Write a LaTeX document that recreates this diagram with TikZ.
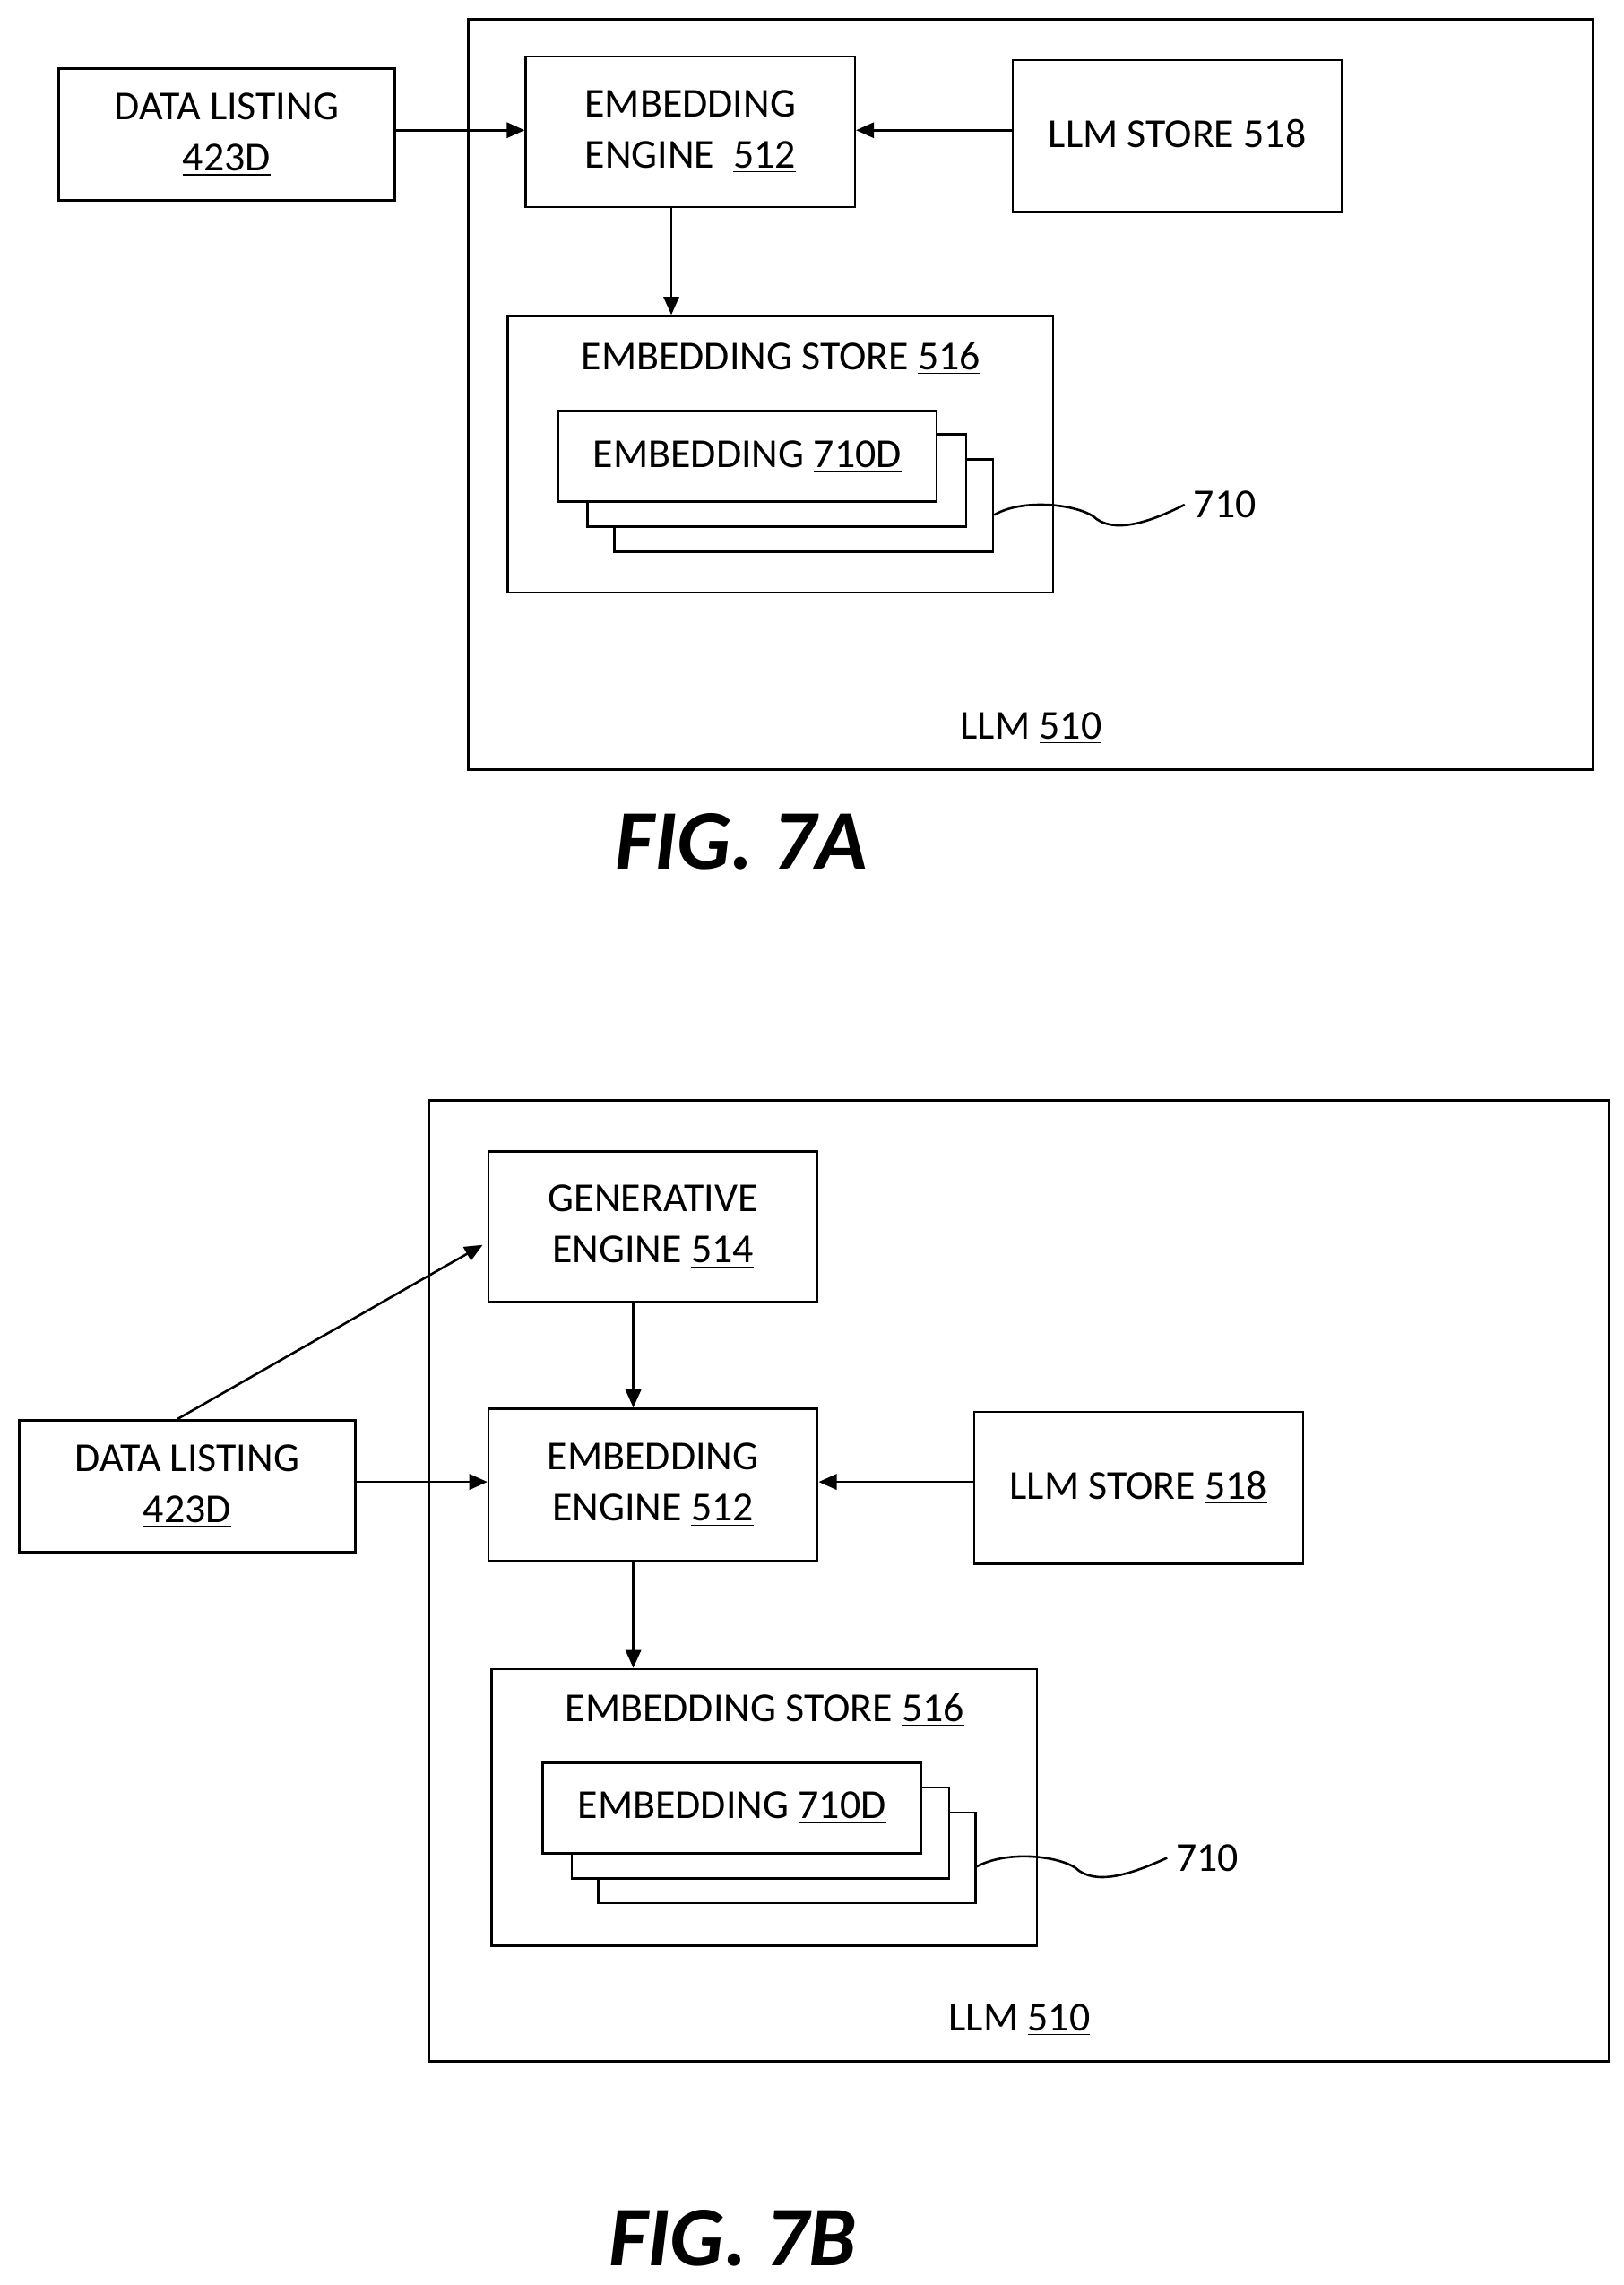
\documentclass[tikz,border=0pt]{standalone}
\usepackage{fontspec}
\setmainfont{Carlito}
\usetikzlibrary{arrows.meta}

\tikzset{
	box/.style={draw, line width=0.9pt, fill=white, align=center, font=\fontsize{16}{20}\selectfont},
	lbl/.style={font=\fontsize{16}{20}\selectfont},
	flow/.style={-{Triangle[length=7pt,width=6pt]}, line width=0.9pt},
	fig/.style={font=\fontsize{33}{36}\selectfont\bfseries\itshape}
}

\begin{document}
\begin{tikzpicture}[x=0.02cm, y=-0.02cm]
	% Page frame
	\useasboundingbox (0,0) rectangle (1110,1562);

	% ---- FIG. 7A ----
	\node[box, minimum width=15.38cm, minimum height=10.26cm] (llmA) at (704.5,269.5) {};
	\node[lbl] (llmAl) at (705,498) {LLM \underline{510}};
	\node[box, minimum width=4.6cm, minimum height=1.8cm] (dlA) at (155,92) {DATA LISTING\\\underline{423D}};
	\node[box, minimum width=4.5cm, minimum height=2.06cm] (eeA) at (472,90) {EMBEDDING\\ENGINE \ \underline{512}};
	\node[box, minimum width=4.5cm, minimum height=2.08cm] (lsA) at (805,93) {LLM STORE \underline{518}};
	\node[box, minimum width=7.46cm, minimum height=3.78cm] (esA) at (533.5,310.5) {};
	\node[lbl] (esAl) at (534,245) {EMBEDDING STORE \underline{516}};
	% stacked embeddings, back to front
	\node[box, minimum width=5.18cm, minimum height=1.26cm] (emA3) at (549.5,345.5) {};
	\node[box, minimum width=5.18cm, minimum height=1.26cm] (emA2) at (531,328.5) {};
	\node[box, minimum width=5.18cm, minimum height=1.24cm] (emA1) at (511,312) {EMBEDDING \underline{710D}};
	\node[lbl, anchor=west] (refA) at (810,345) {710};
	\draw[line width=0.9pt] (emA3.east |- 0,352) .. controls (700,340) and (740,345) .. (750,355)
		.. controls (765,365) and (790,355) .. (refA.west);

	\draw[flow] (dlA.east |- 0,89) -- (eeA.west |- 0,89);
	\draw[flow] (lsA.west |- 0,89) -- (eeA.east |- 0,89);
	\draw[flow] (459,0 |- eeA.south) -- (459,0 |- esA.north);
	\node[fig] (figA) at (507,575) {FIG. 7A};

	% ---- FIG. 7B ----
	\node[box, minimum width=16.14cm, minimum height=13.14cm] (llmB) at (696.5,1080.5) {};
	\node[lbl] (llmBl) at (697,1381) {LLM \underline{510}};
	\node[box, minimum width=4.5cm, minimum height=2.06cm] (geB) at (446.5,838.5) {GENERATIVE\\ENGINE \underline{514}};
	\node[box, minimum width=4.5cm, minimum height=2.08cm] (eeB) at (446.5,1015) {EMBEDDING\\ENGINE \underline{512}};
	\node[box, minimum width=4.5cm, minimum height=2.08cm] (lsB) at (778.5,1017) {LLM STORE \underline{518}};
	\node[box, minimum width=4.6cm, minimum height=1.8cm] (dlB) at (128,1016) {DATA LISTING\\\underline{423D}};
	\node[box, minimum width=7.46cm, minimum height=3.78cm] (esB) at (522.5,1235.5) {};
	\node[lbl] (esBl) at (523,1169) {EMBEDDING STORE \underline{516}};
	\node[box, minimum width=5.16cm, minimum height=1.24cm] (emB3) at (538,1270) {};
	\node[box, minimum width=5.16cm, minimum height=1.24cm] (emB2) at (520,1253) {};
	\node[box, minimum width=5.18cm, minimum height=1.24cm] (emB1) at (500.5,1236) {EMBEDDING \underline{710D}};
	\node[lbl, anchor=west] (refB) at (798,1270) {710};
	\draw[line width=0.9pt] (emB3.east |- 0,1276) .. controls (690,1264) and (728,1269) .. (738,1279)
		.. controls (753,1289) and (778,1279) .. (refB.west);

	\draw[flow] (121,0 |- dlB.north) -- (330,851);
	\draw[flow] (dlB.east |- 0,1013) -- (eeB.west |- 0,1013);
	\draw[flow] (lsB.west |- 0,1013) -- (eeB.east |- 0,1013);
	\draw[flow] (433,0 |- geB.south) -- (433,0 |- eeB.north);
	\draw[flow] (433,0 |- eeB.south) -- (433,0 |- esB.north);
	\node[fig] (figB) at (501,1530) {FIG. 7B};
\end{tikzpicture}
\end{document}
